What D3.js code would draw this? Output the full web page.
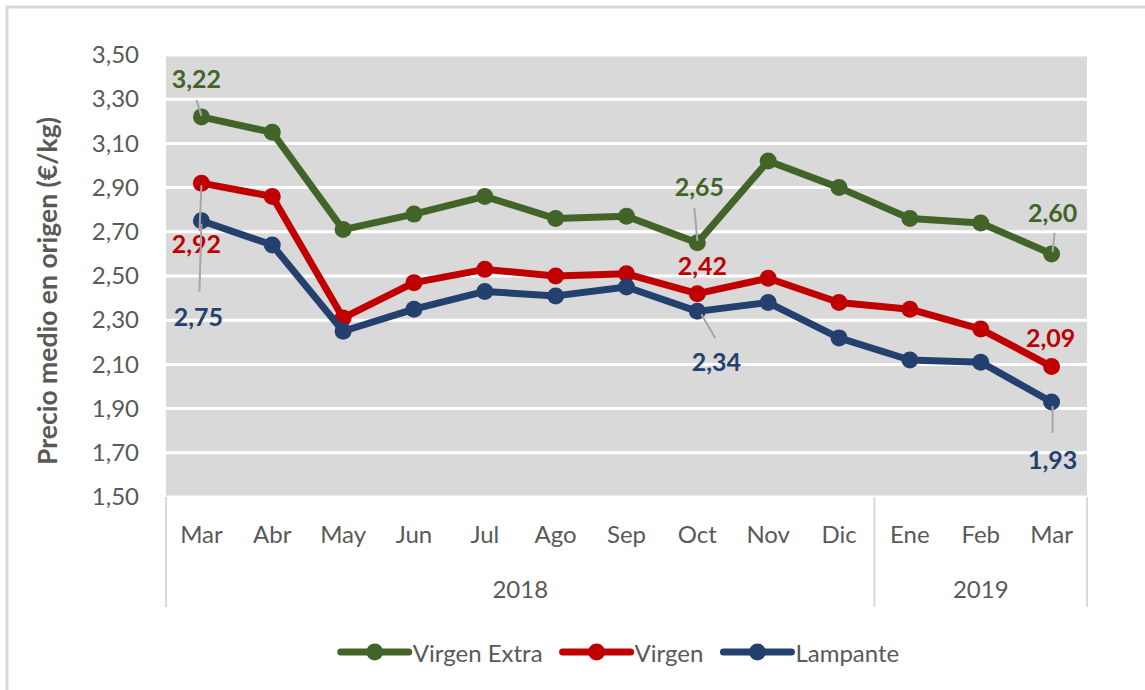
<!DOCTYPE html>
<html lang="es">
<head>
<meta charset="UTF-8">
<script src="https://cdn.jsdelivr.net/npm/d3@7"></script>
<title>Precio medio en origen</title>
<style>
  body { margin: 0; background: #fff; }
  svg text { font-family: Lato, "Open Sans", sans-serif; }
</style>
</head>
<body>
<svg id="chart" width="1145" height="690"></svg>
<script>
// data
var months = ["Mar", "Abr", "May", "Jun", "Jul", "Ago", "Sep", "Oct", "Nov", "Dic", "Ene", "Feb", "Mar"];
var yearGroups = [
  { year: "2018", from: 0, to: 9 },
  { year: "2019", from: 10, to: 12 }
];
var virgenExtra = [3.22, 3.15, 2.71, 2.78, 2.86, 2.76, 2.77, 2.65, 3.02, 2.90, 2.76, 2.74, 2.60];
var virgen      = [2.92, 2.86, 2.31, 2.47, 2.53, 2.50, 2.51, 2.42, 2.49, 2.38, 2.35, 2.26, 2.09];
var lampante    = [2.75, 2.64, 2.25, 2.35, 2.43, 2.41, 2.45, 2.34, 2.38, 2.22, 2.12, 2.11, 1.93];
var yTicks = [1.5, 1.7, 1.9, 2.1, 2.3, 2.5, 2.7, 2.9, 3.1, 3.3, 3.5];
var labelledPoints = [0, 7, 12];

var series = [
  { name: "Virgen Extra", values: virgenExtra, color: "#426429" },
  { name: "Virgen", values: virgen, color: "#c00000" },
  { name: "Lampante", values: lampante, color: "#24406e" }
];

// where each value label sits, relative to its point
var labelPlacement = {
  "Virgen Extra": [{ dx: -5, dy: -39, lead: [-5, -17, 0, -1] }, { dx: 2, dy: -57, lead: [-3, -35, 0, -2] }, { dx: 1, dy: -42, lead: [3, -21, 1, -2] }],
  "Virgen":       [{ dx: -5, dy: 60, lead: [0, 2, -2, 48] },   { dx: 5, dy: -29 },                         { dx: -1, dy: -30 }],
  "Lampante":     [{ dx: -3, dy: 95, lead: [0, 3, -2, 71] },   { dx: 19, dy: 50, lead: [4, 3, 18, 27] },  { dx: 1, dy: 57, lead: [1, 4, 1, 31] }]
};

var svg = d3.select("#chart");
var plotLeft = 166, plotRight = 1087, plotTop = 55, plotBottom = 497;
var axisGray = "#595959";

// outer frame
svg.append("rect").attr("x", 7).attr("y", 7).attr("width", 1160).attr("height", 700)
  .attr("fill", "none").attr("stroke", "#d9d9d9").attr("stroke-width", 3);

var x = d3.scaleBand().domain(d3.range(months.length)).range([plotLeft, plotRight]);
var cx = function(i) { return x(i) + x.bandwidth() / 2; };
var y = d3.scaleLinear().domain([1.5, 3.5]).range([plotBottom, plotTop]);

// plot background + gridlines
svg.append("rect").attr("x", plotLeft).attr("y", plotTop)
  .attr("width", plotRight - plotLeft).attr("height", plotBottom - plotTop)
  .attr("fill", "#d9d9d9");
svg.append("g").selectAll("line").data(yTicks).join("line")
  .attr("x1", plotLeft).attr("x2", plotRight)
  .attr("y1", function(d) { return y(d); }).attr("y2", function(d) { return y(d); })
  .attr("stroke", "#fff").attr("stroke-width", 3);

// y axis
var yAxis = d3.axisLeft(y).tickValues(yTicks).tickSize(0).tickPadding(0)
  .tickFormat(function(d) { return d3.format(".2f")(d).replace(".", ","); });
var yg = svg.append("g").attr("transform", "translate(139,0)").call(yAxis);
yg.select(".domain").remove();
yg.selectAll("text").attr("fill", axisGray).style("font-size", "24px").style("font-family", "Lato, sans-serif");

svg.append("text")
  .attr("transform", "translate(57,291) rotate(-90)")
  .attr("text-anchor", "middle")
  .attr("fill", axisGray).attr("font-weight", "bold").style("font-size", "26.5px")
  .text("Precio medio en origen (€/kg)");

// x axis: months
var xAxis = d3.axisBottom(x).tickSize(0).tickPadding(0).tickFormat(function(i) { return months[i]; });
var xg = svg.append("g").attr("transform", "translate(0," + (plotBottom + 29) + ")").call(xAxis);
xg.select(".domain").remove();
xg.selectAll("text").attr("fill", axisGray).style("font-size", "24px").style("font-family", "Lato, sans-serif");

// year groups
var sepX = [plotLeft].concat(yearGroups.map(function(g) { return x(g.to) + x.bandwidth(); }));
svg.append("g").selectAll("line").data(sepX).join("line")
  .attr("x1", function(d) { return d; }).attr("x2", function(d) { return d; })
  .attr("y1", plotBottom).attr("y2", 607)
  .attr("stroke", "#d9d9d9").attr("stroke-width", 2);
svg.append("g").selectAll("text").data(yearGroups).join("text")
  .attr("x", function(g) { return (x(g.from) + x(g.to) + x.bandwidth()) / 2; })
  .attr("y", 598)
  .attr("text-anchor", "middle").attr("fill", axisGray).style("font-size", "24px")
  .text(function(g) { return g.year; });

// lines + markers
var line = d3.line().x(function(d, i) { return cx(i); }).y(function(d) { return y(d); });
series.forEach(function(s) {
  svg.append("path").datum(s.values).attr("d", line)
    .attr("fill", "none").attr("stroke", s.color).attr("stroke-width", 7)
    .attr("stroke-linejoin", "round");
  svg.append("g").selectAll("circle").data(s.values).join("circle")
    .attr("cx", function(d, i) { return cx(i); }).attr("cy", function(d) { return y(d); })
    .attr("r", 8.5).attr("fill", s.color);
});

// value labels with leader lines
series.forEach(function(s) {
  labelledPoints.forEach(function(idx, k) {
    var p = labelPlacement[s.name][k];
    var px = cx(idx), py = y(s.values[idx]);
    if (p.lead) {
      svg.append("line")
        .attr("x1", px + p.lead[0]).attr("y1", py + p.lead[1])
        .attr("x2", px + p.lead[2]).attr("y2", py + p.lead[3])
        .attr("stroke", "#a6a6a6").attr("stroke-width", 2);
    }
    svg.append("text")
      .attr("x", px + p.dx).attr("y", py + p.dy)
      .attr("text-anchor", "middle").attr("dominant-baseline", "central")
      .attr("fill", s.color).attr("font-weight", "bold").style("font-size", "25px")
      .text(d3.format(".2f")(s.values[idx]).replace(".", ","));
  });
});

// legend
var legend = svg.append("g");
var lx = 0;
series.forEach(function(s, i) {
  var g = legend.append("g").attr("transform", "translate(" + lx + ",0)");
  g.append("line").attr("x1", 0).attr("x2", 68).attr("y1", 0).attr("y2", 0)
    .attr("stroke", s.color).attr("stroke-width", 7).attr("stroke-linecap", "round");
  g.append("circle").attr("cx", 34).attr("cy", 0).attr("r", 8.5).attr("fill", s.color);
  var t = g.append("text").attr("x", 72).attr("y", 0).attr("dominant-baseline", "central")
    .attr("fill", axisGray).style("font-size", "24px").text(s.name);
  lx += 72 + t.node().getComputedTextLength() + 20;
});
var legendWidth = lx - 20;
legend.attr("transform", "translate(" + (620 - legendWidth / 2) + ",652)");
</script>
</body>
</html>
